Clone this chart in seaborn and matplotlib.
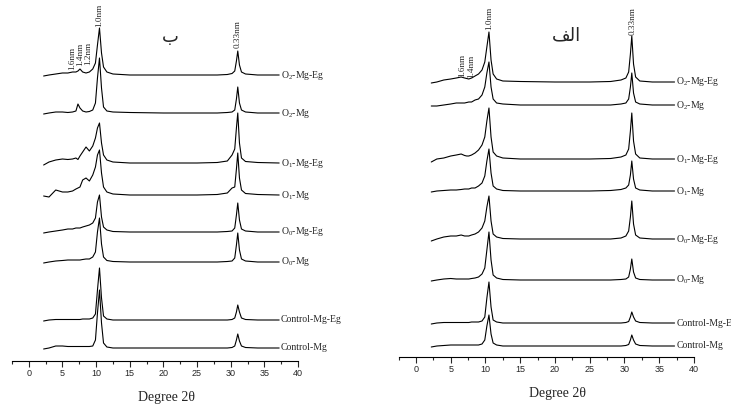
import matplotlib
matplotlib.use('Agg')
import matplotlib.pyplot as plt
import seaborn as sns
import numpy as np
from matplotlib.ticker import MultipleLocator

TWO_THETA = [2.2, 3, 4, 5, 5.8, 6.5, 7, 7.3, 7.6, 8, 8.5, 9, 9.5, 9.9, 10.2, 10.5,
             10.8, 11.1, 11.6, 12.5, 15, 20, 25, 28, 29.5, 30.2, 30.6, 30.85,
             31.05, 31.3, 31.6, 32.2, 34, 37.2]

LABELS = [r"O$\mathregular{_2}$-Mg-Eg", r"O$\mathregular{_2}$-Mg",
          r"O$\mathregular{_1}$-Mg-Eg", r"O$\mathregular{_1}$-Mg",
          r"O$\mathregular{_0}$-Mg-Eg", r"O$\mathregular{_0}$-Mg",
          "Control-Mg-Eg", "Control-Mg"]

# left panel (ب) - intensity above each trace baseline
B_O2_MG_EG = [-1, 0, 1, 2, 2, 3, 3, 4, 6, 3, 2, 3, 6, 12, 30, 47, 22, 8, 3, 1, 0, 0, 0, 0, 0.5, 1.5, 4, 14, 24, 10, 3, 1, 0, 0]
B_O2_MG = [-1, 0, 1, 1, 0.5, 1, 2, 9, 5, 2, 1, 1.5, 3, 10, 35, 55, 25, 6, 2, 1, 0.5, 0, 0, 0, 0.5, 1, 3, 14, 26, 10, 3, 1, 0, 0]
B_O1_MG_EG = [-2, 1, 3, 4, 3.5, 4, 5, 3.5, 7, 11, 16, 12, 17, 25, 35, 40, 20, 8, 3, 1, 0, 0, 0, 0.5, 2, 8, 14, 35, 50, 20, 5, 1.5, 0.5, 0]
B_O1_MG = [-1, -2, 5, 3, 3, 4, 6, 7, 8, 15, 17, 14, 20, 28, 40, 45, 22, 8, 3, 1, 0, 0, 0, 0.5, 2, 7, 8, 26, 42, 17, 5, 1.5, 0.5, 0]
B_O0_MG_EG = [-1, 0, 1, 2, 3, 3, 4, 4, 4, 5, 6, 7, 9, 14, 30, 37, 15, 5, 2, 0.5, 0, 0, 0, 0, 0.5, 1, 4, 17, 29, 12, 3, 1, 0, 0]
B_O0_MG = [-1, 0, 1, 1.5, 2, 2, 2, 2, 2, 2.5, 3, 3, 5, 10, 30, 44, 18, 5, 1.5, 0.5, 0, 0, 0, 0, 0.5, 1, 4, 17, 29, 12, 3, 1, 0, 0]
B_CTRL_MG_EG = [-1, 0, 0.5, 0.5, 0.5, 0.5, 0.5, 0.5, 0.5, 1, 1, 1, 2, 6, 30, 52, 22, 4, 1, 0, 0, 0, 0, 0, 0, 0.5, 2, 8, 15, 8, 2, 0.5, 0, 0]
B_CTRL_MG = [-1, 0, 2, 2, 1.5, 1.5, 1.5, 1.5, 1.5, 1.5, 1.5, 1.5, 2, 8, 35, 58, 25, 5, 1, 0, 0, 0, 0, 0, 0, 0.5, 2, 8, 14, 7, 2, 0.5, 0, 0]
B_OFFSETS = [286, 248, 198, 166, 129, 99, 41, 13]

# right panel (الف)
A_O2_MG_EG = [-1, 0, 2, 3, 4, 5, 4, 3.5, 3, 4, 6, 8, 12, 20, 35, 50, 22, 8, 3, 1, 0.5, 0, 0, 0.5, 2, 4, 10, 28, 46, 18, 5, 1, 0, 0]
A_O2_MG = [-1, -1, 0, 1, 2, 2, 2, 2.5, 3, 3, 5, 6, 10, 18, 32, 43, 18, 6, 2, 1, 0, 0, 0, 0, 1, 2, 6, 18, 32, 12, 3, 1, 0, 0]
A_O1_MG_EG = [-3, 0, 1, 3, 4, 5, 3.5, 3, 3, 4, 6, 9, 14, 22, 38, 51, 22, 7, 3, 1, 0, 0, 0, 0.5, 2, 4, 10, 28, 46, 18, 5, 1, 0, 0]
A_O1_MG = [-1, 0, 0.5, 1, 1, 1.5, 2, 2, 2, 3, 3, 5, 8, 15, 30, 42, 18, 5, 2, 0.5, 0, 0, 0, 0.5, 1.5, 3, 6, 16, 30, 12, 3, 1, 0, 0]
A_O0_MG_EG = [-2, 0, 2, 3, 3, 4, 3, 3, 3, 4, 5, 7, 11, 18, 32, 43, 18, 5, 2, 0.5, 0, 0, 0, 0, 1, 3, 8, 22, 38, 15, 4, 1, 0, 0]
A_O0_MG = [-1, 0, 1, 1.5, 1, 1, 1, 1, 1, 1.5, 2, 3, 6, 12, 30, 48, 20, 5, 2, 0.5, 0, 0, 0, 0, 0.5, 1, 3, 11, 21, 8, 2, 0.5, 0, 0]
A_CTRL_MG_EG = [-1, 0, 0.5, 0.5, 0.5, 0.5, 0.5, 0.5, 0.5, 1, 1, 1, 2, 6, 25, 41, 16, 3, 1, 0, 0, 0, 0, 0, 0, 0.5, 1.5, 6, 11, 6, 2, 0.5, 0, 0]
A_CTRL_MG = [-1, 0, 0.5, 1, 1, 1, 1, 1, 1, 1, 1, 1, 2, 6, 20, 31, 12, 3, 1, 0, 0, 0, 0, 0, 0, 0.5, 1.5, 6, 11, 6, 2, 0.5, 0, 0]
A_OFFSETS = [275, 252, 198, 166, 118, 77, 34, 11]

# peak annotations: (text, 2theta, height)
B_PEAK_NOTES = [("1.0nm", 10.5, 334), ("0.33nm", 31.05, 313),
                ("1.6nm", 6.4, 291), ("1.4nm", 7.6, 295), ("1.2nm", 8.8, 296)]
A_PEAK_NOTES = [("1.0nm", 10.6, 327), ("0.33nm", 31.1, 322),
                ("1.6nm", 6.6, 280), ("1.4nm", 7.9, 279)]

sns.set_style("white")
plt.rcParams['font.family'] = ['Liberation Serif', 'DejaVu Sans']
plt.rcParams['axes.linewidth'] = 0.8


def draw_panel(ax, traces, offsets, notes, ymax, title, title_pos, xlab_y):
    for vals, off, lab in zip(traces, offsets, LABELS):
        y = np.array(vals) + off
        sns.lineplot(x=TWO_THETA, y=y, ax=ax, color='black', lw=0.8,
                     sort=False, estimator=None)
        ax.text(37.45, off, lab, fontsize=7, va='center', ha='left',
                clip_on=False)

    for txt, xp, yp in notes:
        ax.text(xp, yp, txt, fontsize=6.6, rotation=90, ha='center',
                va='bottom', clip_on=False)

    ax.text(title_pos[0], title_pos[1], title, fontsize=13,
            family='DejaVu Sans', ha='center', va='center')

    ax.set_xlim(-2.5, 40)
    ax.set_ylim(0, ymax)
    ax.set_yticks([])
    ax.set_ylabel("")
    ax.xaxis.set_major_locator(MultipleLocator(5))
    ax.xaxis.set_minor_locator(MultipleLocator(2.5))
    ax.tick_params(axis='x', which='major', direction='out', length=4,
                   width=0.8, pad=2, labelsize=6.5, bottom=True)
    ax.tick_params(axis='x', which='minor', direction='out', length=2.5,
                   width=0.8, bottom=True)
    for lbl in ax.get_xticklabels():
        lbl.set_family('Liberation Sans')
    for side in ['top', 'left', 'right']:
        ax.spines[side].set_visible(False)
    ax.spines['bottom'].set_color('black')
    ax.set_facecolor('none')
    ax.text(20.4, xlab_y, "Degree 2\u03b8", fontsize=10, ha='center',
            va='center', clip_on=False)


fig = plt.figure(figsize=(7.31, 4.08), dpi=100)
ax_b = fig.add_axes([12 / 731, 47 / 408, 286 / 731, 361 / 408])
ax_a = fig.add_axes([398.6 / 731, 51 / 408, 295.4 / 731, 357 / 408])

draw_panel(ax_b,
           [B_O2_MG_EG, B_O2_MG, B_O1_MG_EG, B_O1_MG,
            B_O0_MG_EG, B_O0_MG, B_CTRL_MG_EG, B_CTRL_MG],
           B_OFFSETS, B_PEAK_NOTES, 361, "\u0628", (21, 324), -37)

draw_panel(ax_a,
           [A_O2_MG_EG, A_O2_MG, A_O1_MG_EG, A_O1_MG,
            A_O0_MG_EG, A_O0_MG, A_CTRL_MG_EG, A_CTRL_MG],
           A_OFFSETS, A_PEAK_NOTES, 357, "\uFED2\uFEDF\uFE8D", (21.7, 322), -36)

fig.savefig("out.png", dpi=100)
plt.close(fig)
